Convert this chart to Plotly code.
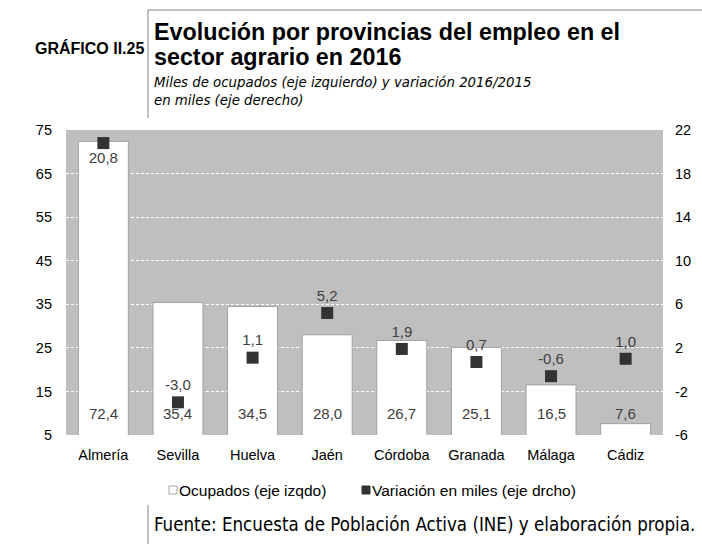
import plotly.graph_objects as go

provincias = ["Almería", "Sevilla", "Huelva", "Jaén", "Córdoba", "Granada", "Málaga", "Cádiz"]
ocupados = [72.4, 35.4, 34.5, 28.0, 26.7, 25.1, 16.5, 7.6]
variacion = [20.8, -3.0, 1.1, 5.2, 1.9, 0.7, -0.6, 1.0]
left_ticks = [5, 15, 25, 35, 45, 55, 65, 75]
right_ticks = [-6, -2, 2, 6, 10, 14, 18, 22]

def es(v):
    return f"{v:.1f}".replace(".", ",")

W, H = 702, 544
L, R, T, B = 66, 39, 130, 109
pw, ph = W - L - R, H - T - B

def px(x):
    return (x - L) / pw

def py(y):
    return (H - B - y) / ph

font = "Liberation Sans"
narrow = "DejaVu Sans Condensed"
lblfont = dict(size=15, color="#404040", family=font)

fig = go.Figure()
fig.add_trace(go.Bar(
    x=provincias, y=ocupados, base=0, name="Ocupados (eje izqdo)",
    marker=dict(color="white", line=dict(color="#a0a0a0", width=1)),
    yaxis="y", showlegend=False,
))
fig.add_trace(go.Scatter(
    x=provincias, y=variacion, name="Variación en miles (eje drcho)",
    mode="markers+text", yaxis="y2", showlegend=False,
    marker=dict(symbol="square", size=12, color="#333333"),
    text=[es(v) for v in variacion],
    textposition=["bottom center"] + ["top center"] * 7,
    textfont=lblfont,
))

for p, v in zip(provincias, ocupados):
    fig.add_annotation(x=p, y=5, xref="x", yref="y", text=es(v), showarrow=False,
                       yanchor="bottom", yshift=11, font=lblfont)

def note(x, y, text, size, fam, anchor="left"):
    fig.add_annotation(x=px(x), y=py(y), xref="paper", yref="paper", text=text,
                       showarrow=False, xanchor=anchor, yanchor="middle",
                       font=dict(size=size, color="black", family=fam))

note(33, 48, "<b>GRÁFICO II.25</b>", 16, font)
note(152, 32, "<b>Evolución por provincias del empleo en el</b>", 23.3, font)
note(152, 57, "<b>sector agrario en 2016</b>", 23.3, font)
note(152, 81, "<i>Miles de ocupados (eje izquierdo) y variación 2016/2015</i>", 14.8, narrow)
note(152, 100, "<i>en miles (eje derecho)</i>", 14.8, narrow)
note(152, 524, "Fuente: Encuesta de Población Activa (INE) y elaboración propia.", 18.6, narrow)

# legend
note(177, 490, "Ocupados (eje izqdo)", 15.5, font)
note(370, 490, "Variación en miles (eje drcho)", 15.5, font)
fig.add_shape(type="rect", xref="paper", yref="paper", x0=px(169), x1=px(177), y0=py(494), y1=py(486),
              line=dict(color="#a6a6a6", width=1), fillcolor="white")
fig.add_shape(type="rect", xref="paper", yref="paper", x0=px(362), x1=px(370), y0=py(494), y1=py(486),
              line=dict(color="#333333", width=1), fillcolor="#333333")

line = dict(color="#808080", width=1)
fig.add_shape(type="line", xref="paper", yref="paper", x0=px(148), x1=px(702), y0=py(10), y1=py(10), line=line)
fig.add_shape(type="line", xref="paper", yref="paper", x0=px(148), x1=px(148), y0=py(10), y1=py(118), line=line)
fig.add_shape(type="line", xref="paper", yref="paper", x0=px(148), x1=px(148), y0=py(505), y1=py(544), line=line)

fig.update_layout(
    width=W, height=H,
    margin=dict(l=L, r=R, t=T, b=B, pad=0, autoexpand=False),
    paper_bgcolor="white", plot_bgcolor="#bfbfbf",
    bargap=0.33, showlegend=False,
    font=dict(family=font, size=14, color="black"),
    xaxis=dict(showgrid=False, ticks="", tickfont=dict(size=14.5), fixedrange=True,
               automargin=False, ticklabelstandoff=9),
    yaxis=dict(range=[5, 75], tickvals=left_ticks, showgrid=True, gridcolor="white",
               griddash="3px,2px", gridwidth=1, zeroline=False, ticks="", tickfont=dict(size=14.5),
               automargin=False, ticklabelstandoff=13),
    yaxis2=dict(range=[-6, 22], tickvals=right_ticks, ticktext=[str(t) for t in right_ticks],
                overlaying="y", side="right",
                showgrid=False, zeroline=False, ticks="", tickfont=dict(size=14.5),
                automargin=False, ticklabelstandoff=11),
)

fig.write_html("out.html", config={"displayModeBar": False},
               post_script="document.body.style.margin='0';")
